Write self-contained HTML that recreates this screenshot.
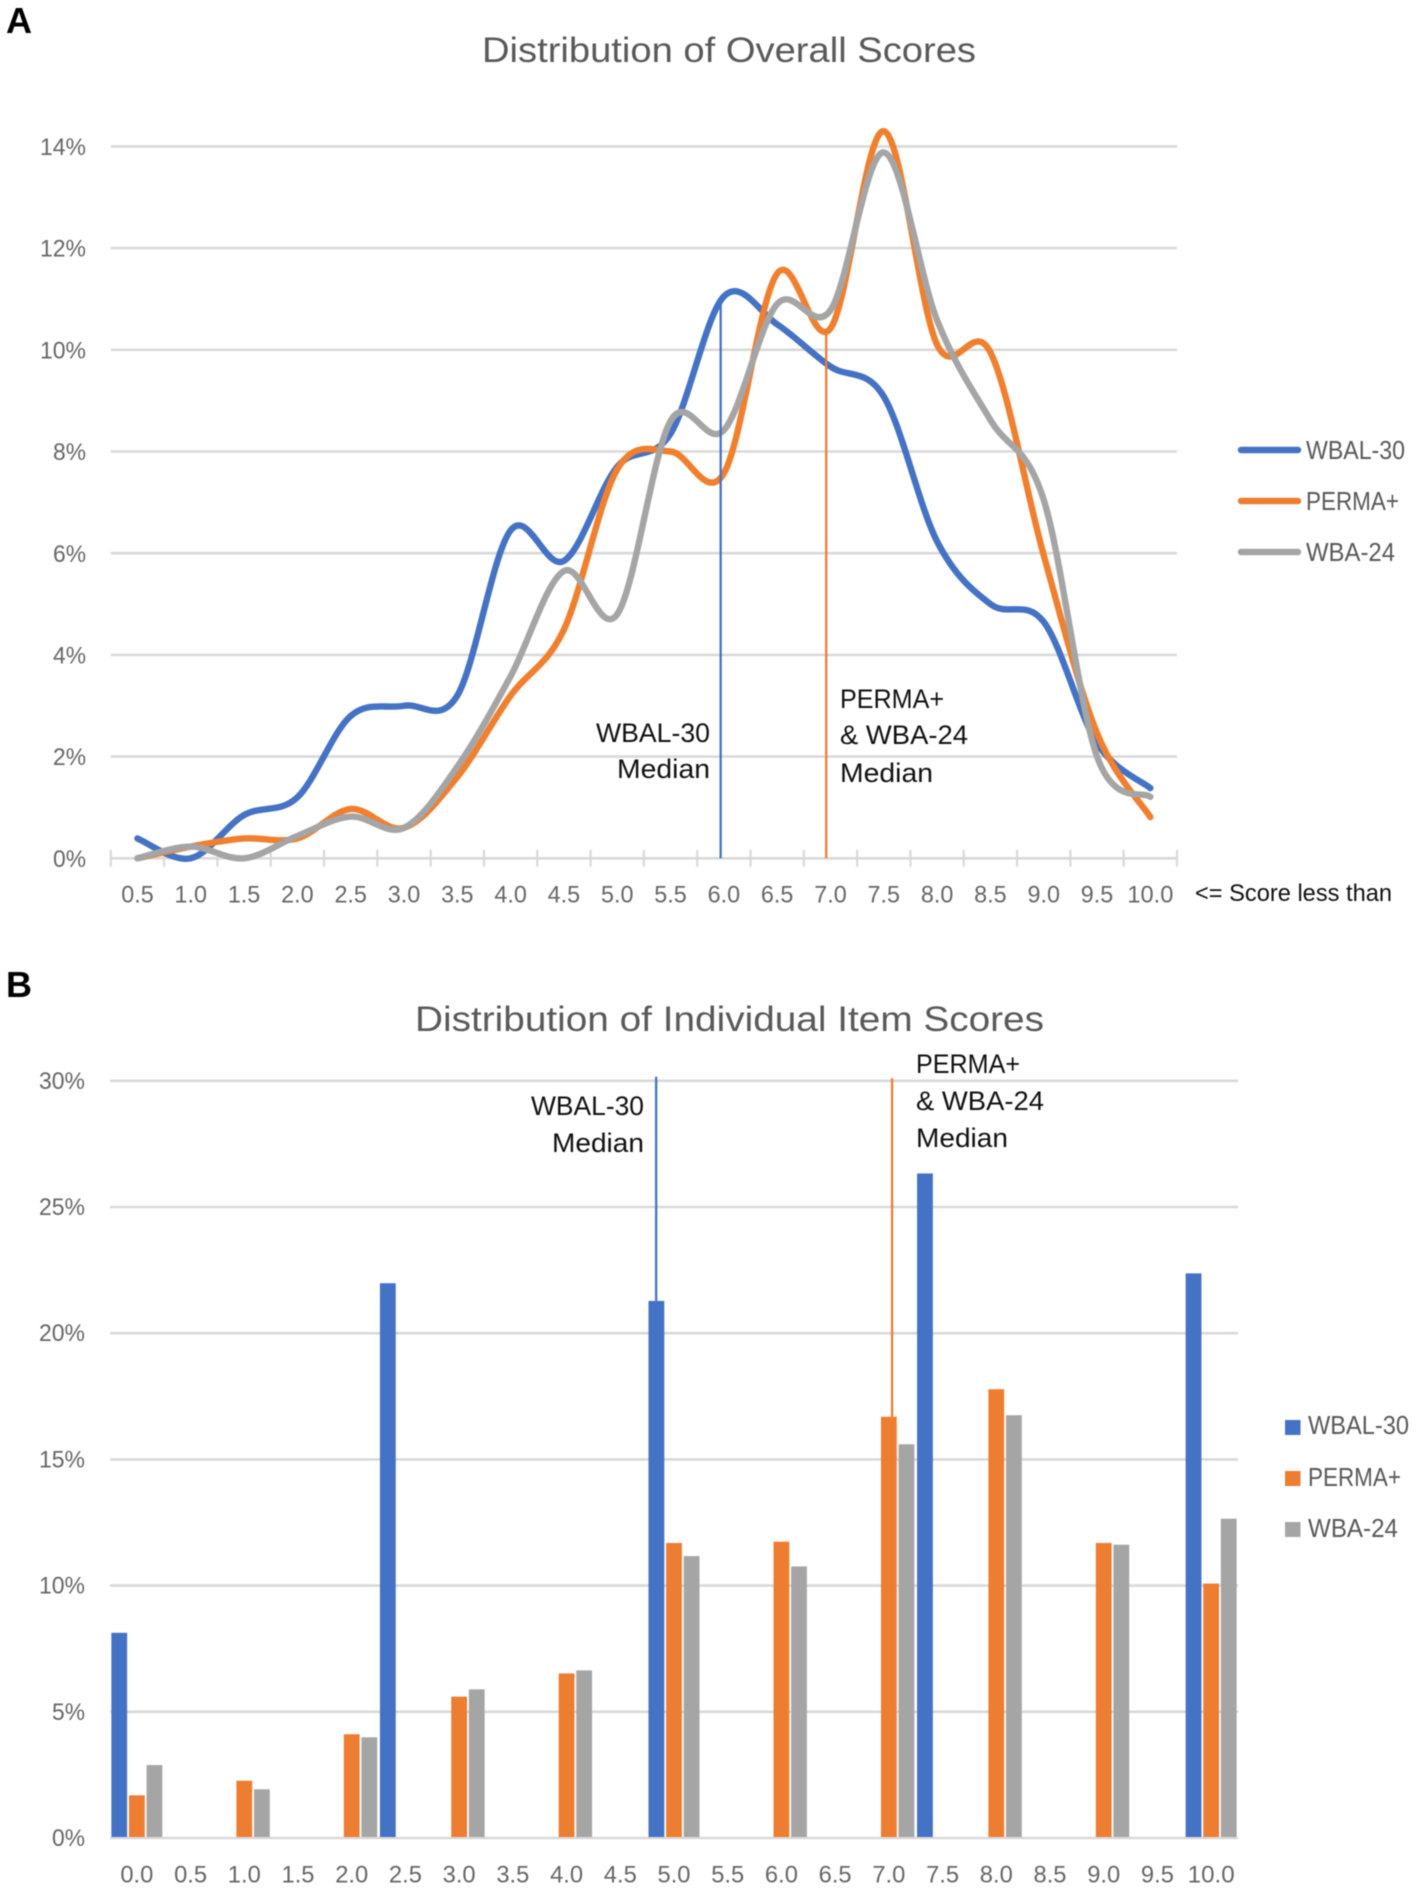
<!DOCTYPE html>
<html lang="en">
<head>
<meta charset="utf-8">
<title>Distribution of Overall and Individual Item Scores</title>
<style>
  html, body { margin: 0; padding: 0; background: #fff; }
  svg { display: block; font-family: "Liberation Sans", sans-serif; filter: blur(0.4px); }
  .title { font-size: 35.5px; fill: #595959; }
  .note { font-size: 26.5px; fill: #111; }
  .legend { font-size: 25.5px; fill: #595959; }
  .tick { font-size: 24px; fill: #666; }
  .panel { font-size: 36px; font-weight: bold; fill: #000; }
</style>
</head>
<body>
<svg id="figure" xmlns="http://www.w3.org/2000/svg" width="1418" height="1890" viewBox="0 0 1418 1890">
  <rect width="1418" height="1890" fill="#fff"/>

  <g id="chart-a">
    <text class="panel" x="6" y="33">A</text>
    <text class="title" x="482" y="62" textLength="494" lengthAdjust="spacingAndGlyphs">Distribution of Overall Scores</text>
    <g id="a-grid"></g>
    <g id="a-series"></g>
    <g id="a-medians"></g>
    <g id="a-labels"></g>
    <g>
      <text class="note" x="596" y="742" textLength="114" lengthAdjust="spacingAndGlyphs">WBAL-30</text>
      <text class="note" x="617" y="778" textLength="93" lengthAdjust="spacingAndGlyphs">Median</text>
      <text class="note" x="840" y="708" textLength="104" lengthAdjust="spacingAndGlyphs">PERMA+</text>
      <text class="note" x="840" y="744" textLength="128" lengthAdjust="spacingAndGlyphs">&amp; WBA-24</text>
      <text class="note" x="840" y="782" textLength="93" lengthAdjust="spacingAndGlyphs">Median</text>
    </g>
    <text class="note" style="font-size:24px" x="1195" y="901" textLength="197" lengthAdjust="spacingAndGlyphs">&lt;= Score less than</text>
    <g>
      <g>
        <line x1="1241" x2="1298" y1="450" y2="450" stroke="#4472C4" stroke-width="6.5" stroke-linecap="round"/>
        <text class="legend" x="1306" y="459" textLength="99" lengthAdjust="spacingAndGlyphs">WBAL-30</text>
      </g>
      <g>
        <line x1="1241" x2="1298" y1="501" y2="501" stroke="#ED7D31" stroke-width="6.5" stroke-linecap="round"/>
        <text class="legend" x="1306" y="510" textLength="93" lengthAdjust="spacingAndGlyphs">PERMA+</text>
      </g>
      <g>
        <line x1="1241" x2="1298" y1="552" y2="552" stroke="#A5A5A5" stroke-width="6.5" stroke-linecap="round"/>
        <text class="legend" x="1306" y="561" textLength="89" lengthAdjust="spacingAndGlyphs">WBA-24</text>
      </g>
    </g>
  </g>

  <g id="chart-b">
    <text class="panel" x="6" y="997">B</text>
    <text class="title" x="415" y="1031" textLength="629" lengthAdjust="spacingAndGlyphs">Distribution of Individual Item Scores</text>
    <g id="b-grid"></g>
    <g id="b-bars"></g>
    <g id="b-medians"></g>
    <g id="b-labels"></g>
    <g>
      <text class="note" x="531" y="1115" textLength="113" lengthAdjust="spacingAndGlyphs">WBAL-30</text>
      <text class="note" x="552" y="1152" textLength="92" lengthAdjust="spacingAndGlyphs">Median</text>
      <text class="note" x="916" y="1073" textLength="104" lengthAdjust="spacingAndGlyphs">PERMA+</text>
      <text class="note" x="916" y="1110" textLength="128" lengthAdjust="spacingAndGlyphs">&amp; WBA-24</text>
      <text class="note" x="916" y="1147" textLength="92" lengthAdjust="spacingAndGlyphs">Median</text>
    </g>
    <g>
      <g>
        <rect x="1285" y="1420" width="15.5" height="15" fill="#4472C4"/>
        <text class="legend" x="1308" y="1434" textLength="101" lengthAdjust="spacingAndGlyphs">WBAL-30</text>
      </g>
      <g>
        <rect x="1285" y="1471" width="15.5" height="15" fill="#ED7D31"/>
        <text class="legend" x="1308" y="1486" textLength="93" lengthAdjust="spacingAndGlyphs">PERMA+</text>
      </g>
      <g>
        <rect x="1285" y="1522" width="15.5" height="15" fill="#A5A5A5"/>
        <text class="legend" x="1308" y="1537" textLength="90" lengthAdjust="spacingAndGlyphs">WBA-24</text>
      </g>
    </g>
  </g>
</svg>

<script>
// Panel A data (percent of respondents per score bin)
var overallCategories = ['0.5','1.0','1.5','2.0','2.5','3.0','3.5','4.0','4.5','5.0','5.5','6.0','6.5','7.0','7.5','8.0','8.5','9.0','9.5','10.0'];
var overallWbal30 = [0.39,0.0,0.85,1.2,2.8,3.0,3.2,6.45,5.85,7.7,8.35,11.05,10.5,9.67,9.08,6.23,5.0,4.65,2.26,1.38];
var overallPerma = [0.0,0.23,0.39,0.39,0.97,0.6,1.6,3.2,4.5,7.65,8.0,7.57,11.5,10.42,14.3,10.1,9.95,5.96,2.46,0.81];
var overallWba24 = [0.0,0.23,0.0,0.44,0.82,0.6,1.8,3.58,5.65,4.8,8.6,8.42,10.9,10.78,13.88,10.58,8.62,7.05,2.0,1.21];
var overallYTicks = [0,2,4,6,8,10,12,14];
var overallMedianWbalScore = 5.97;
var overallMedianWbalTop = 10.98;
var overallMedianPermaScore = 6.96;
var overallMedianPermaTop = 10.39;

// Panel B data (percent of item responses per score)
var itemCategories = ['0.0','0.5','1.0','1.5','2.0','2.5','3.0','3.5','4.0','4.5','5.0','5.5','6.0','6.5','7.0','7.5','8.0','8.5','9.0','9.5','10.0'];
var itemWbal30 = [8.13,null,null,null,null,21.98,null,null,null,null,21.28,null,null,null,null,26.33,null,null,null,null,22.37];
var itemPerma = [1.69,null,2.27,null,4.11,null,5.6,null,6.52,null,11.69,null,11.74,null,16.69,null,17.78,null,11.69,null,10.08];
var itemWba24 = [2.89,null,1.93,null,3.99,null,5.89,null,6.64,null,11.17,null,10.76,null,15.6,null,16.75,null,11.62,null,12.65];
var itemYTicks = [0,5,10,15,20,25,30];
var itemMedianWbalScore = 4.834;
var itemMedianWbalBottom = 21.28;
var itemMedianWbalTop = 30.16;
var itemMedianPermaScore = 7.03;
var itemMedianPermaBottom = 16.69;
var itemMedianPermaTop = 30.1;

var NS = 'http://www.w3.org/2000/svg';
var BLUE = '#4472C4', ORANGE = '#ED7D31', GREY = '#A5A5A5', GRID = '#D9D9D9';

// Axis functions
var aLeft = 110.8, aRight = 1177, aZero = 858.3, aPerPct = 50.85;
var aStep = (aRight - aLeft) / overallCategories.length;
function xA(i) { return aLeft + aStep * (i + 0.5); }
function xAScore(s) { return xA(s / 0.5 - 1); }
function yA(v) { return aZero - v * aPerPct; }

var bLeft = 110, bRight = 1238, bZero = 1838, bPerPct = 25.24;
var bStep = (bRight - bLeft) / itemCategories.length;
function xB(i) { return bLeft + bStep * (i + 0.5); }
function xBScore(s) { return xB(s / 0.5); }
function yB(v) { return bZero - v * bPerPct; }

function make(tag, parentId, attrs) {
  var el = document.createElementNS(NS, tag);
  for (var k in attrs) el.setAttribute(k, attrs[k]);
  document.getElementById(parentId).appendChild(el);
  return el;
}

function smoothPath(values) {
  var pts = values.map(function (v, i) { return [xA(i), yA(v)]; });
  var d = 'M' + pts[0][0].toFixed(2) + ' ' + pts[0][1].toFixed(2);
  for (var i = 0; i < pts.length - 1; i++) {
    var p0 = pts[Math.max(i - 1, 0)], p1 = pts[i], p2 = pts[i + 1], p3 = pts[Math.min(i + 2, pts.length - 1)];
    var c1x = p1[0] + (p2[0] - p0[0]) / 6, c1y = p1[1] + (p2[1] - p0[1]) / 6;
    var c2x = p2[0] - (p3[0] - p1[0]) / 6, c2y = p2[1] - (p3[1] - p1[1]) / 6;
    d += 'C' + c1x.toFixed(2) + ' ' + c1y.toFixed(2) + ' ' + c2x.toFixed(2) + ' ' + c2y.toFixed(2) + ' ' + p2[0].toFixed(2) + ' ' + p2[1].toFixed(2);
  }
  return d;
}

// Panel A: gridlines and y labels
overallYTicks.forEach(function (t) {
  var g = make('line', 'a-grid', { x1: aLeft, x2: aRight, y1: yA(t), y2: yA(t), stroke: GRID, 'stroke-width': 2.6 });
  
  
  var s = t + '%';
  var lab = make('text', 'a-labels', { x: 86, y: yA(t) + 8.6, 'text-anchor': 'end', 'class': 'tick', textLength: s.length === 3 ? 46 : 33, lengthAdjust: 'spacingAndGlyphs' });
  lab.textContent = s;
  
  
});

// Panel A: ticks and x labels
for (var ti = 0; ti <= overallCategories.length; ti++) {
  var tx = aLeft + aStep * ti;
  var tk = make('line', 'a-grid', { x1: tx, x2: tx, y1: aZero - 8.3, y2: aZero + 8.4, stroke: GRID, 'stroke-width': 2.2 });
  
  
}
overallCategories.forEach(function (c, i) {
  var lab = make('text', 'a-labels', { x: xA(i), y: 902.7, 'text-anchor': 'middle', 'class': 'tick', textLength: c.length === 3 ? 32.5 : 46, lengthAdjust: 'spacingAndGlyphs' });
  lab.textContent = c;
  
  
});

// Panel A: series
var lineWbal = make('path', 'a-series', { d: smoothPath(overallWbal30), fill: 'none', stroke: BLUE, 'stroke-width': 6.4, 'stroke-linecap': 'round', 'stroke-linejoin': 'round' });


var linePerma = make('path', 'a-series', { d: smoothPath(overallPerma), fill: 'none', stroke: '#F07F2E', 'stroke-width': 6.4, 'stroke-linecap': 'round', 'stroke-linejoin': 'round' });


var lineWba = make('path', 'a-series', { d: smoothPath(overallWba24), fill: 'none', stroke: GREY, 'stroke-width': 6.4, 'stroke-linecap': 'round', 'stroke-linejoin': 'round' });



// Panel A: median lines
var medA1 = make('line', 'a-medians', { x1: xAScore(overallMedianWbalScore), x2: xAScore(overallMedianWbalScore), y1: yA(overallMedianWbalTop), y2: yA(0), stroke: BLUE, 'stroke-width': 2.3 });


var medA2 = make('line', 'a-medians', { x1: xAScore(overallMedianPermaScore), x2: xAScore(overallMedianPermaScore), y1: yA(overallMedianPermaTop), y2: yA(0), stroke: ORANGE, 'stroke-width': 2.3 });



// Panel B: gridlines and y labels
itemYTicks.forEach(function (t) {
  var g = make('line', 'b-grid', { x1: bLeft, x2: bRight, y1: yB(t), y2: yB(t), stroke: GRID, 'stroke-width': 2.6 });
  
  
  var s = t + '%';
  var lab = make('text', 'b-labels', { x: 85, y: yB(t) + 8, 'text-anchor': 'end', 'class': 'tick', textLength: s.length === 3 ? 46 : 33, lengthAdjust: 'spacingAndGlyphs' });
  lab.textContent = s;
  
  
});
itemCategories.forEach(function (c, i) {
  var lab = make('text', 'b-labels', { x: xB(i), y: 1882.7, 'text-anchor': 'middle', 'class': 'tick', textLength: c.length === 3 ? 33 : 47, lengthAdjust: 'spacingAndGlyphs' });
  lab.textContent = c;
  
  
});

// Panel B: bars
var barStep = 17.6, barWidth = 15.8;
function drawBars(values, offset, color, name) {
  values.forEach(function (v, i) {
    if (v === null) return;
    var cx = xB(i) + offset * barStep;
    var bar = make('rect', 'b-bars', { x: cx - barWidth / 2, y: yB(v), width: barWidth, height: yB(0) - yB(v) - 1, fill: color });
    
    
  });
}
drawBars(itemWbal30, -1, BLUE, 'bar-wbal-30');
drawBars(itemPerma, 0, ORANGE, 'bar-perma');
drawBars(itemWba24, 1, GREY, 'bar-wba-24');

// Panel B: median lines
var medB1 = make('line', 'b-medians', { x1: xBScore(itemMedianWbalScore), x2: xBScore(itemMedianWbalScore), y1: yB(itemMedianWbalTop), y2: yB(itemMedianWbalBottom), stroke: BLUE, 'stroke-width': 2.3 });


var medB2 = make('line', 'b-medians', { x1: xBScore(itemMedianPermaScore), x2: xBScore(itemMedianPermaScore), y1: yB(itemMedianPermaTop), y2: yB(itemMedianPermaBottom), stroke: ORANGE, 'stroke-width': 2.3 });


</script>
</body>
</html>
